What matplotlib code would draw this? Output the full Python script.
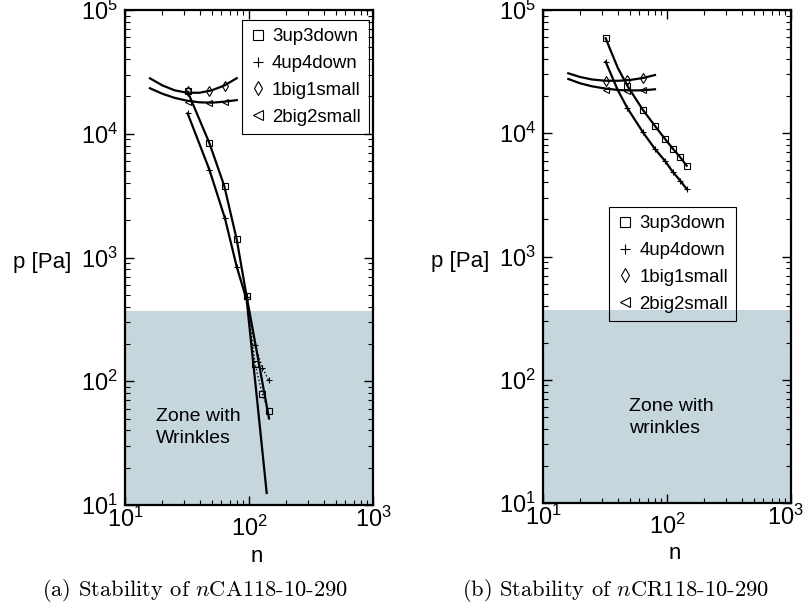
import matplotlib as mpl
mpl.use('Agg')
import matplotlib.pyplot as plt
import matplotlib.transforms as mtransforms
from matplotlib.lines import Line2D

# --- data --------------------------------------------------------------
n_pts = [32, 48, 64, 80, 96, 112, 128, 144]
n_short = [32, 48, 64]

# (a) nCA118-10-290
a_sq_p = [22100, 8380, 3790, 1400, 489, 137, 79, 58]
a_pl_p = [14600, 5090, 2070, 844, 480, 196, 129, 102]
a_di_p = [22000, 22300, 24400]
a_tr_p = [18200, 17800, 17900]

a_sq_fit_n = [32, 48, 63.2, 79.6, 95.8, 114.9, 129.4, 145]
a_sq_fit_p = [21900, 8370, 3780, 1400, 482, 179, 93, 50]
a_pl_fit_n = [32, 48, 64, 79.6, 95.8, 105.5, 116.2, 127.8, 138.9]
a_pl_fit_p = [14600, 5100, 2070, 843, 453, 179, 71, 28, 12.5]
a_top_fit_n = [15.9, 20, 25.1, 31.6, 39.8, 50.1, 63.1, 79.6]
a_di_fit_p = [28050, 24600, 22450, 21450, 21440, 22430, 24520, 28100]
a_tr_fit_p = [23300, 21060, 19500, 18500, 17950, 17830, 18150, 18700]

# (b) nCR118-10-290
b_sq_p = [58950, 24170, 15440, 11450, 9030, 7450, 6380, 5450]
b_pl_p = [38060, 15940, 10180, 7450, 5990, 4820, 4120, 3530]
b_di_p = [26700, 27000, 28000]
b_tr_p = [22400, 22100, 22400]

b_fit_n = [32, 40, 48, 64, 80, 96, 112, 128, 144]
b_sq_fit_p = [58950, 34100, 24170, 15440, 11450, 9030, 7450, 6380, 5450]
b_pl_fit_p = [38060, 22500, 15940, 10180, 7450, 5990, 4820, 4120, 3530]
b_top_fit_n = [16.0, 19.9, 24.8, 31.6, 40.3, 50.3, 64.0, 80.0]
b_di_fit_p = [30650, 28610, 27310, 26690, 26640, 27040, 28070, 29690]
b_tr_fit_p = [27560, 25430, 24040, 23080, 22440, 22230, 22310, 22730]

wrinkle_limit = 370
series_names = ['3up3down', '4up4down', '1big1small', '2big2small']
series_markers = ['s', '+', 'd', '<']
x_ticks = [10, 100, 1000]
x_ticklabels = ['$10^{1}$', '$10^{2}$', '$10^{3}$']
y_ticks = [10, 100, 1000, 10000, 100000]
y_ticklabels = ['$10^{1}$', '$10^{2}$', '$10^{3}$', '$10^{4}$', '$10^{5}$']

plt.rcParams['font.family'] = ['Liberation Sans', 'DejaVu Sans']
plt.rcParams['mathtext.fontset'] = 'custom'
plt.rcParams['mathtext.rm'] = 'Liberation Sans'
plt.rcParams['mathtext.it'] = 'Liberation Sans:italic'
plt.rcParams['mathtext.bf'] = 'Liberation Sans:bold'

W, H = 807.0, 608.0
shade = '#c5d6dd'
fig = plt.figure(figsize=(W / 100, H / 100), dpi=100)
axA = fig.add_axes([125 / W, (H - 505) / H, 248 / W, 495 / H])
axB = fig.add_axes([543 / W, (H - 503) / H, 248 / W, 493 / H])


def mk(ax, n, p, m, ls='none'):
    ax.plot(n, p, ls=ls, lw=1, marker=m, ms=5, mfc='none', mec='k',
            mew=0.8, color='k', zorder=4)


def setup(ax, legpos, zone_txt, zone_xy, caption, cap_x):
    ax.set_xscale('log')
    ax.set_yscale('log')
    ax.set_xlim(10, 1000)
    ax.set_ylim(10, 100000)
    ax.axhspan(10, wrinkle_limit, color=shade, lw=0, zorder=0)
    ax.set_xticks(x_ticks, labels=x_ticklabels)
    ax.set_yticks(y_ticks, labels=y_ticklabels)
    ax.tick_params(which='both', direction='in', top=True, right=True,
                   labelsize=17)
    ax.tick_params(which='major', length=6.5, width=1)
    ax.tick_params(which='minor', length=3.5, width=0.8)
    ax.tick_params(axis='y', pad=5)
    ax.tick_params(axis='x', pad=1)
    # middle x label sits lower in the original
    ax.xaxis.get_major_ticks()[1].set_pad(8)
    for s in ax.spines.values():
        s.set_linewidth(1.6)
    ax.set_xlabel('n', fontsize=16)
    ax.xaxis.set_label_coords(0.53, -0.082)
    ax.set_ylabel('p [Pa]', fontsize=16, rotation=0, ha='center', va='center')
    ax.yaxis.set_label_coords(-0.335, 0.49)
    handles = [Line2D([], [], ls='none', marker=m, ms=7, mfc='none', mec='k', mew=0.8)
               for m in series_markers]
    ax.legend(handles, series_names, loc='upper left',
              bbox_to_anchor=(legpos[0] / W, 1 - legpos[1] / H),
              bbox_transform=fig.transFigure, borderaxespad=0,
              fontsize=13.4, fancybox=False, facecolor='none', edgecolor='k',
              framealpha=1, handlelength=0.8, handletextpad=0.38,
              labelspacing=0.52, borderpad=0.45)
    ax.get_legend().get_frame().set_linewidth(0.8)
    ax.text(zone_xy[0], zone_xy[1], zone_txt, transform=ax.transAxes,
            fontsize=14, va='center', ha='left', linespacing=1.4)
    fig.text(cap_x / W, 1 - 591 / H, caption, ha='center', va='center',
             fontsize=16.2, family='cmr10', math_fontfamily='cm')


# (a)
axA.plot(a_sq_fit_n, a_sq_fit_p, 'k-', lw=1.6, zorder=3)
axA.plot(a_pl_fit_n, a_pl_fit_p, 'k-', lw=1.6, zorder=3)
axA.plot(a_top_fit_n, a_di_fit_p, 'k-', lw=1.6, zorder=3)
axA.plot(a_top_fit_n, a_tr_fit_p, 'k-', lw=1.6, zorder=3)
mk(axA, n_pts[:5], a_sq_p[:5], 's')
mk(axA, n_pts[4:], a_sq_p[4:], 's', ls=':')
mk(axA, n_pts[:5], a_pl_p[:5], '+')
mk(axA, n_pts[4:], a_pl_p[4:], '+', ls=':')
mk(axA, n_short, a_di_p, 'd')
mk(axA, n_short, a_tr_p, '<')
setup(axA, (241.7, 20), 'Zone with\nWrinkles', (0.125, 0.157),
      r'(a) Stability of $n$CA118-10-290', 195.5)

# (b)
axB.plot(b_fit_n, b_sq_fit_p, 'k-', lw=1.6, zorder=3)
axB.plot(b_fit_n, b_pl_fit_p, 'k-', lw=1.6, zorder=3)
axB.plot(b_top_fit_n, b_di_fit_p, 'k-', lw=1.6, zorder=3)
axB.plot(b_top_fit_n, b_tr_fit_p, 'k-', lw=1.6, zorder=3)
mk(axB, n_pts, b_sq_p, 's')
mk(axB, n_pts, b_pl_p, '+')
mk(axB, n_short, b_di_p, 'd')
mk(axB, n_short, b_tr_p, '<')
setup(axB, (609, 207), 'Zone with\nwrinkles', (0.345, 0.173),
      r'(b) Stability of $n$CR118-10-290', 615)

# keep the last x label of (b) inside the picture
lab = axB.xaxis.get_major_ticks()[2].label1
lab.set_transform(lab.get_transform() +
                  mtransforms.ScaledTranslation(-4 / 72, 0, fig.dpi_scale_trans))

fig.savefig('out.png', dpi=100)
